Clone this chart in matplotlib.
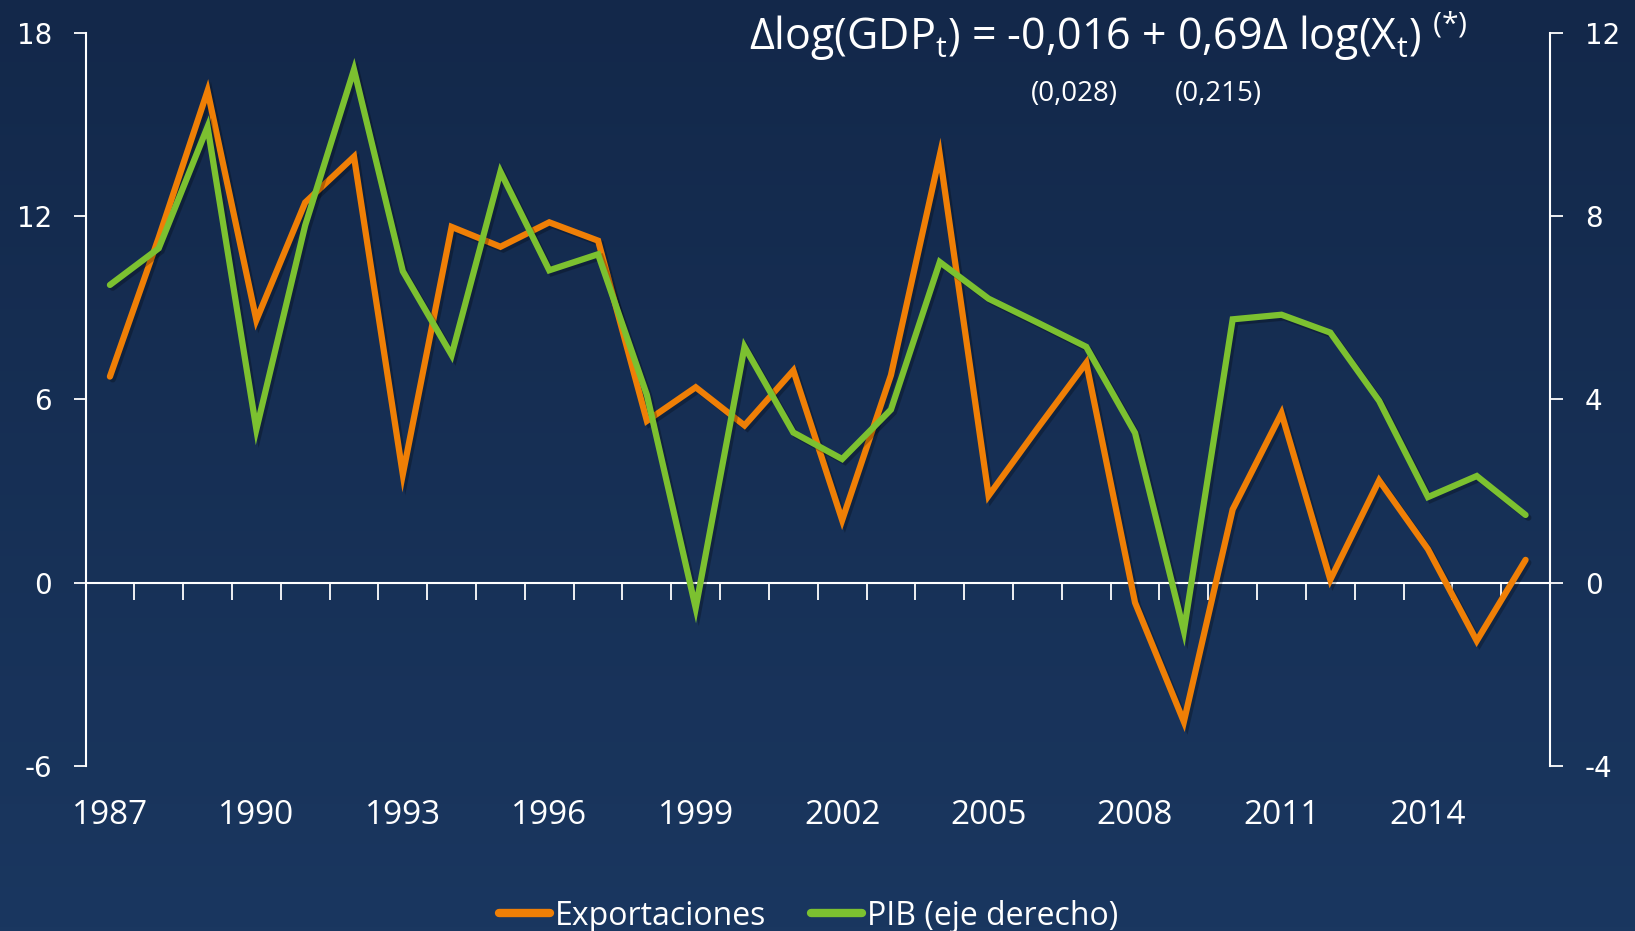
import matplotlib
matplotlib.use("Agg")
import matplotlib.pyplot as plt
import matplotlib.patheffects as pe
import numpy as np

# datos
years = list(range(1987, 2017))
exportaciones = [6.75, 11.3, 16.1, 8.6, 12.45, 13.95, 3.55, 11.65, 11.0, 11.8,
                 11.2, 5.3, 6.4, 5.15, 6.95, 2.05, 6.8, 14.0, 2.85, 5.05,
                 7.2, -0.65, -4.55, 2.4, 5.55, 0.1, 3.35, 1.1, -1.9, 0.75]
pib = [6.5, 7.3, 9.95, 3.35, 7.8, 11.2, 6.8, 4.97, 8.97, 6.82,
       7.17, 4.1, -0.55, 5.15, 3.28, 2.7, 3.78, 7.0, 6.2, 5.68,
       5.15, 3.27, -1.05, 5.75, 5.85, 5.46, 3.97, 1.87, 2.33, 1.48]
left_ticks = [-6, 0, 6, 12, 18]
right_ticks = [-4, 0, 4, 8, 12]
year_labels = [1987, 1990, 1993, 1996, 1999, 2002, 2005, 2008, 2011, 2014]

ORANGE = "#EF7F06"
GREEN = "#7CC130"
TXT = "Open Sans"

plt.rcParams["axes.unicode_minus"] = False
plt.rcParams["mathtext.fontset"] = "custom"
plt.rcParams["mathtext.rm"] = TXT
plt.rcParams["mathtext.it"] = TXT

fig = plt.figure(figsize=(16.35, 9.31), dpi=100)

# fondo degradado
bg = fig.add_axes([0, 0, 1, 1], zorder=-10)
grad = np.linspace(0, 1, 256).reshape(-1, 1)
cmap = matplotlib.colors.LinearSegmentedColormap.from_list("bg", ["#13284A", "#1A3760"])
bg.imshow(grad, aspect="auto", cmap=cmap, extent=[0, 1, 0, 1])
bg.axis("off")

ax = fig.add_axes([0.0523, 0.1772, 0.8957, 0.7874])
ax.patch.set_alpha(0)
ax2 = ax.twinx()
ax2.patch.set_alpha(0)

x = np.arange(len(years))
shadow = [pe.SimpleLineShadow(offset=(2, -2), shadow_color="black", alpha=0.25), pe.Normal()]

l1, = ax.plot(x, exportaciones, color=ORANGE, lw=4.5, solid_capstyle="round",
              solid_joinstyle="miter", label="Exportaciones", path_effects=shadow, zorder=3)
l2, = ax2.plot(x, pib, color=GREEN, lw=4.5, solid_capstyle="round",
               solid_joinstyle="miter", label="PIB (eje derecho)", path_effects=shadow, zorder=3)

ax.set_xlim(-0.5, len(years) - 0.5)
ax.set_ylim(-6, 18)
ax2.set_ylim(-4, 12)
ax.set_yticks(left_ticks)
ax2.set_yticks(right_ticks)

for s in ["top", "right"]:
    ax.spines[s].set_visible(False)
for s in ["top", "left", "bottom"]:
    ax2.spines[s].set_visible(False)
ax.spines["bottom"].set_position(("data", 0))
for s in [ax.spines["left"], ax.spines["bottom"], ax2.spines["right"]]:
    s.set_color("white")
    s.set_linewidth(1.5)

ax.set_xticks(x[:-1] + 0.5)
ax.set_xticklabels([])
ax.tick_params(axis="x", direction="out", length=12, width=1.3, color="white")
ax2.tick_params(axis="x", length=0)
ax.tick_params(axis="y", direction="out", length=9, width=1.3, color="white",
               labelcolor="white", labelsize=20, pad=15, labelfontfamily="DejaVu Sans")
ax2.tick_params(axis="y", direction="out", length=9, width=1.3, color="white",
                labelcolor="white", labelsize=20, pad=16, labelfontfamily="DejaVu Sans")

# etiquetas de anos abajo
for yr in year_labels:
    ax.text(years.index(yr), -0.068, str(yr), transform=ax.get_xaxis_transform(),
            ha="center", va="center", color="white", fontsize=24, fontfamily=TXT)

# ecuacion
fig.text(0.458, 0.962, r"$\Delta$log(GDP$_\mathrm{t}$) = -0,016 + 0,69$\Delta$ log(X$_\mathrm{t}$) $^{(*)}$",
         ha="left", va="center", color="white", fontsize=31, fontfamily=TXT)
fig.text(0.657, 0.899, "(0,028)", ha="center", va="center", color="white", fontsize=20, fontfamily=TXT)
fig.text(0.745, 0.899, "(0,215)", ha="center", va="center", color="white", fontsize=20, fontfamily=TXT)

leg = fig.legend(handles=[l1, l2], loc="center", bbox_to_anchor=(0.4947, 0.016), ncol=2,
                 frameon=False, handlelength=1.6, handletextpad=0.15,
                 columnspacing=1.4, prop={"family": TXT, "size": 23})
for t in leg.get_texts():
    t.set_color("white")
for h in leg.legend_handles:
    h.set_path_effects([])
    h.set_linewidth(6)

fig.savefig("out.png", dpi=100)
